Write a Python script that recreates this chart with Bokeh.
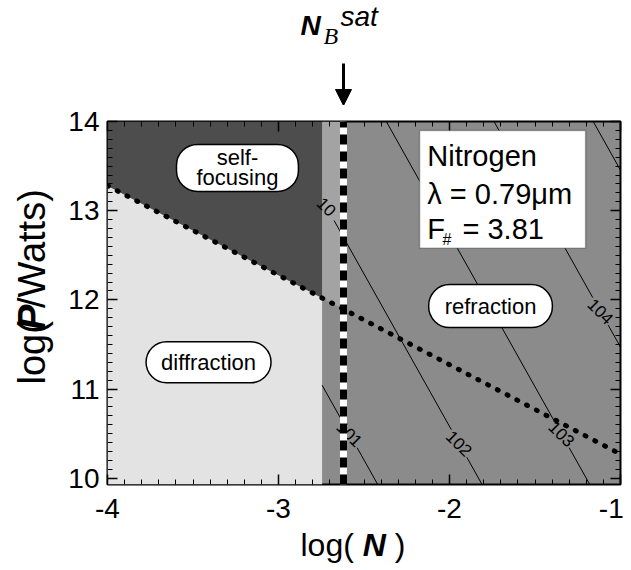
import numpy as np
from bokeh.plotting import figure
from bokeh.layouts import column, row
from bokeh.models import (Label, Arrow, NormalHead, BoxAnnotation, LinearAxis,
                          FixedTicker, Range1d)
from bokeh.core.properties import value
from bokeh.embed import file_html
from bokeh.resources import INLINE

# ---- data -------------------------------------------------------------
logN_range = (-4.0, -1.0)
logP_range = (9.93, 14.0)

x_ticks = [-4, -3, -2, -1]
x_tick_labels = ["-4", "-3", "-2", "-1\u00a0"]
y_ticks = [10, 11, 12, 13, 14]

# critical power for self-focusing (dotted line), P ~ 1/N
threshold_logN = [-4.0, -1.0]
threshold_logP = [13.28, 10.27]

# edge of the diffraction / self-focusing zone and the saturation density
boundary_logN = -2.745
saturation_logN = -2.62

# family of parallel contours: log N where each one crosses log P = 10
contour_exp = [1, 2, 3, 4, 5]
contour_logN_at_10 = [-2.44, -1.83, -1.20, -0.57, 0.01]
contour_slope = -3.42

# contour labels: which contour, where along it (log N), and the text
label_exp = [2, 1, 2, 3, 4]
label_logN = [-2.72, -2.585, -1.944, -1.345, -1.117]
label_text = ["10", "101", "102", "103", "104"]

# ---- styling ----------------------------------------------------------
FONT = "Liberation Sans"
SELF_FOCUS = "#4d4d4d"
DIFFRACTION = "#e3e3e3"
REFRACTION = "#8b8b8b"
STRIP = "#a3a3a3"

# layout sizes (pixels)
W, H = 631, 570
TOP_H, BOTTOM_H, LEFT_W = 105, 44, 60
MAIN_W, MAIN_H = W - LEFT_W, H - TOP_H - BOTTOM_H


def blank(width, height, y_top):
    """Text-only panel whose coordinates are page pixels (y measured up from page bottom)."""
    f = figure(width=width, height=height,
               x_range=Range1d(0, width),
               y_range=Range1d(H - (y_top + height), H - y_top),
               output_backend="svg", toolbar_location=None,
               x_axis_location=None, y_axis_location=None,
               min_border=0, outline_line_color=None,
               background_fill_color="white", border_fill_color="white")
    f.grid.visible = False
    return f


def words(f, x, y, text, style="normal", size=32, angle=0.0, font=FONT):
    # (x, y) is the page-pixel start of the baseline; glyph is anchored by its middle
    dx, dy = -0.346 * size * np.sin(angle), 0.346 * size * np.cos(angle)
    f.text(x=[x + dx], y=[H - y + dy], text=[text], angle=angle,
           text_font=value(font), text_font_size=f"{size}px",
           text_font_style=style, text_color="black",
           text_align="left", text_baseline="middle")


# ---- main plot --------------------------------------------------------
p = figure(width=MAIN_W, height=MAIN_H,
           x_range=Range1d(*logN_range), y_range=Range1d(*logP_range),
           output_backend="svg", toolbar_location=None,
           min_border_left=47, min_border_right=11,
           min_border_top=121 - TOP_H, min_border_bottom=42,
           background_fill_color=REFRACTION, border_fill_color="white")
p.grid.visible = False
p.outline_line_color = "black"
p.outline_line_width = 2


def threshold(x):
    return float(np.interp(x, threshold_logN, threshold_logP))


yb = threshold(boundary_logN)
ys = threshold(saturation_logN)
lo, hi = logP_range

p.patch([logN_range[0], boundary_logN, boundary_logN, logN_range[0]],
        [lo, lo, yb, threshold_logP[0]], fill_color=DIFFRACTION, line_color=None)
p.patch([logN_range[0], boundary_logN, boundary_logN, logN_range[0]],
        [threshold_logP[0], yb, hi, hi], fill_color=SELF_FOCUS, line_color=None)
p.patch([boundary_logN, saturation_logN, saturation_logN, boundary_logN],
        [yb, ys, hi, hi], fill_color=STRIP, line_color=None)

# contours inside the refraction zone, broken where they are labelled
half_gap = 0.045
xs_all, ys_all = [], []
for e, x10 in zip(contour_exp, contour_logN_at_10):
    x_top = x10 + (hi - 10.0) / contour_slope
    x_bot = x10 + (lo - 10.0) / contour_slope
    x0 = max(min(x_top, x_bot), boundary_logN)
    x1 = min(max(x_top, x_bot), logN_range[1])
    if x1 <= x0:
        continue
    cuts = sorted(xl for ex, xl in zip(label_exp, label_logN) if ex == e)
    pts = [x0]
    for c in cuts:
        pts += [c - half_gap, c + half_gap]
    pts.append(x1)
    for a, b in zip(pts[0::2], pts[1::2]):
        a, b = max(a, x0), min(b, x1)
        if b > a:
            xs_all.append([a, b])
            ys_all.append([10.0 + contour_slope * (a - x10),
                           10.0 + contour_slope * (b - x10)])
p.multi_line(xs_all, ys_all, line_color="black", line_width=1)

lab_y = [10.0 + contour_slope * (x - contour_logN_at_10[contour_exp.index(e)])
         for e, x in zip(label_exp, label_logN)]
p.text(x=label_logN, y=lab_y, text=label_text, angle=-0.78,
       text_font=value(FONT), text_font_size="17px", text_color="black",
       text_align="center", text_baseline="middle")

# threshold dotted line and saturation-density marker
p.line(threshold_logN, threshold_logP, line_color="black", line_width=5,
       line_dash="1 10", line_cap="round")
p.line([saturation_logN, saturation_logN], [lo, hi], line_color="white", line_width=7)
p.line([saturation_logN, saturation_logN], [lo, hi], line_color="black", line_width=7,
       line_dash="10 7")

# axes: labelled left/bottom, tick-only top/right, ticks pointing inward
xt = FixedTicker(ticks=x_ticks, minor_ticks=list(np.round(np.arange(-4, -0.99, 0.1), 2)))
yt = FixedTicker(ticks=y_ticks, minor_ticks=list(np.round(np.arange(9.9, 14.01, 0.1), 2)))


def style_axis(ax, labels=True):
    ax.major_tick_in = 10
    ax.major_tick_out = 0
    ax.minor_tick_in = 5
    ax.minor_tick_out = 0
    ax.major_tick_line_color = "black"
    ax.minor_tick_line_color = "black"
    ax.major_tick_line_width = 1.5
    ax.axis_line_color = None
    ax.major_label_text_font = FONT
    ax.major_label_text_font_size = "28px"
    ax.major_label_text_color = "black"
    ax.major_label_standoff = 8 if labels else 0


p.xaxis[0].ticker = xt
p.yaxis[0].ticker = yt
p.xaxis[0].major_label_overrides = dict(zip(x_ticks, x_tick_labels))
style_axis(p.xaxis[0])
style_axis(p.yaxis[0])

top_ax = LinearAxis(ticker=xt, major_label_overrides={t: "" for t in x_ticks})
right_ax = LinearAxis(ticker=yt, major_label_overrides={t: "" for t in y_ticks})
style_axis(top_ax, labels=False)
style_axis(right_ax, labels=False)
p.add_layout(top_ax, "above")
p.add_layout(right_ax, "right")


# region labels in rounded boxes
def pill(x, y, text, pad):
    p.add_layout(Label(x=x, y=y, text=text, text_font=FONT, text_font_size="22px",
                       text_color="black", text_align="center",
                       text_baseline="middle", text_line_height=0.8,
                       background_fill_color="white", border_line_color="black",
                       border_line_width=1.5, border_radius=21, padding=pad))


pill(-3.24, 13.48, "self-\nfocusing", (20, 1))
pill(-3.409, 11.30, "diffraction", (15, 8))
pill(-1.76, 11.93, "refraction", (16, 9))

# parameter box
p.add_layout(BoxAnnotation(left=-2.175, right=-1.204, top=13.90, bottom=12.58,
                           fill_color="white", fill_alpha=1.0,
                           line_color="black", line_width=1.5))


def boxtext(x, y, text, size=29):
    p.add_layout(Label(x=x, y=y, text=text, text_font=FONT, text_font_size=f"{size}px",
                       text_color="black", text_align="left",
                       text_baseline="middle"))


boxtext(-2.13, 13.615, "Nitrogen")
boxtext(-2.13, 13.189, "\u03bb = 0.79\u03bcm")
boxtext(-2.13, 12.797, "F")
boxtext(-2.041, 12.681, "#", size=16)
boxtext(-1.924, 12.797, "= 3.81")

# ---- title strip with the saturation-density arrow -----------------------
top = blank(W, TOP_H, 0)
top.add_layout(Arrow(end=NormalHead(size=16, fill_color="black", line_color="black"),
                     x_start=343, y_start=H - 63, x_end=343, y_end=H - TOP_H,
                     line_width=3, line_color="black"))
words(top, 300, 35, "N", style="bold italic", size=28)
words(top, 323, 44, "B", style="italic", size=24, font="Liberation Serif")
words(top, 340, 26, "sat", style="italic", size=28)

# ---- y-axis title, reading bottom to top along the baseline x = 45 --------
YT = 38
left = blank(LEFT_W, MAIN_H, TOP_H)
words(left, 45, 410.0, "log(", size=YT, angle=np.pi / 2)
words(left, 45, 346.7, "P", style="bold italic", size=YT, angle=np.pi / 2)
words(left, 45, 321.4, "/Watts)", size=YT, angle=np.pi / 2)

# ---- x-axis title -----------------------------------------------------
bottom = blank(W, BOTTOM_H, H - BOTTOM_H)
words(bottom, 300, 556, "log(\u00a0")
words(bottom, 362.2, 556, "N", style="bold italic")
words(bottom, 385.3, 556, "\u00a0)")

layout = column(top, row(left, p), bottom)
open("out.html", "w").write(file_html(layout, INLINE))
